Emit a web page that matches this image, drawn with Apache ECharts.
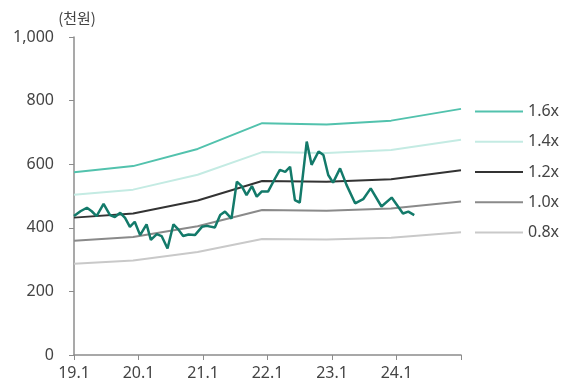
<!DOCTYPE html>
<html>
<head>
<meta charset="utf-8">
<script src="https://cdn.jsdelivr.net/npm/echarts@6/dist/echarts.min.js"></script>
<style>
html,body{margin:0;padding:0;background:#fff;}
#c{width:568px;height:388px;}
</style>
</head>
<body>
<div id="c"></div>
<script>
// x tick labels (one per year, months since 19.1)
const xTickLabels = ['19.1','20.1','21.1','22.1','23.1','24.1',''];
// band anchor months
const bandMonths = [0, 11, 23, 35, 47, 59, 72];
const band16 = [575, 594, 648, 729, 725, 737, 774];
const band14 = [504, 520, 567, 638, 635, 645, 677];
const band12 = [432, 445, 486, 547, 545, 553, 581];
const band10 = [359, 371, 405, 456, 454, 461, 483];
const band08 = [287, 297, 324, 365, 363, 369, 386];
const bandNames = ['1.6x','1.4x','1.2x','1.0x','0.8x'];
// stock price (months since 19.1, value in 천원)
const priceMonths = [0,1.2,2.4,3.3,4.2,5.5,6.7,7.6,8.6,9.5,10.4,11.3,12.3,13.5,14.3,15.4,16.3,17.4,18.5,19.4,20.3,21.3,22.5,23.8,24.7,26.2,27.2,28.1,29.3,30.3,31.2,32.1,33.1,34.0,34.9,36.1,37.4,38.3,39.3,40.2,41.1,42.0,43.3,44.2,45.5,46.4,47.3,48.2,49.5,50.7,52.3,53.8,55.2,57.2,59.1,61.2,62.2,63.3];
const priceValues = [437,452,463,452,437,475,440,434,447,431,403,419,377,411,362,380,374,335,411,395,374,379,377,403,406,401,440,451,429,545,531,503,531,498,514,514,555,582,576,592,487,479,671,598,640,629,566,542,587,535,477,490,524,467,495,445,451,440];

const pair = (xs, ys) => xs.map((x, i) => [x, ys[i]]);
const bandColors = ['#52c2ad', '#c4ebe3', '#333333', '#8a8a8a', '#c9c9c9'];
const bands = [band16, band14, band12, band10, band08];

const series = bands.map((b, i) => ({
  name: bandNames[i],
  type: 'line',
  symbol: 'none',
  data: pair(bandMonths, b),
  lineStyle: { color: bandColors[i], width: 2 },
  itemStyle: { color: bandColors[i] },
  z: 2
}));
series.push({
  name: '주가',
  type: 'line',
  symbol: 'none',
  data: pair(priceMonths, priceValues),
  lineStyle: { color: '#137a6a', width: 2.5 },
  itemStyle: { color: '#137a6a' },
  z: 5
});

const chart = echarts.init(document.getElementById('c'), null, { renderer: 'canvas' });
chart.setOption({
  animation: false,
  backgroundColor: '#fff',
  textStyle: { fontFamily: 'Noto Sans, sans-serif' },
  grid: { left: 74, right: 107, top: 37, bottom: 33 },
  legend: {
    data: bandNames,
    orient: 'vertical',
    left: 470,
    top: 97,
    icon: 'rect',
    itemWidth: 48,
    itemHeight: 2,
    itemGap: 11.25,
    textStyle: { fontSize: 16, color: '#444', fontFamily: 'Noto Sans', lineHeight: 19 }
  },
  xAxis: {
    type: 'value',
    min: 0, max: 72, interval: 12,
    axisLine: { show: true, lineStyle: { color: '#8c8c8c', width: 1.5 } },
    axisTick: { show: true, length: 5, lineStyle: { color: '#8c8c8c' } },
    splitLine: { show: false },
    axisLabel: {
      formatter: v => xTickLabels[Math.round(v / 12)] || '',
      fontSize: 16, color: '#444', margin: 10, fontFamily: 'Noto Sans'
    }
  },
  yAxis: {
    type: 'value',
    min: 0, max: 1000, interval: 200,
    name: '(천원)',
    nameGap: 11,
    nameTextStyle: { fontSize: 15, color: '#444', fontFamily: 'Noto Sans CJK KR', padding: [0, 0, 0, 6] },
    axisLine: { show: true, lineStyle: { color: '#8c8c8c', width: 1.5 } },
    axisTick: { show: true, length: 5, lineStyle: { color: '#8c8c8c' } },
    splitLine: { show: false },
    axisLabel: {
      formatter: v => v.toString().replace(/\B(?=(\d{3})+(?!\d))/g, ','),
      fontSize: 16, color: '#444', margin: 20, fontFamily: 'Noto Sans'
    }
  },
  series: series
});
</script>
</body>
</html>
